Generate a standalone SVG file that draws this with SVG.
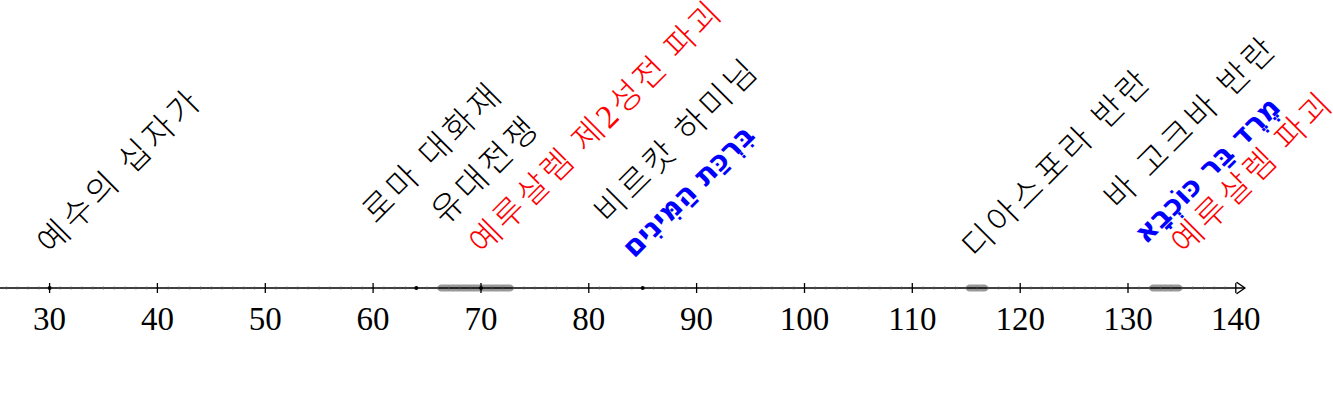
<svg xmlns="http://www.w3.org/2000/svg" width="1333" height="418" viewBox="0 0 1333 418">
<style>
.num{font-family:"Liberation Serif","DejaVu Serif",serif;font-size:33px;text-anchor:middle;fill:#000}
.ko{font-family:"Noto Sans CJK KR","Noto Sans",sans-serif;font-size:33px;font-weight:300;letter-spacing:4px;fill:#000}
.red{fill:#ff0000}
.dg{font-family:"Liberation Serif","DejaVu Serif",serif;font-weight:normal}
.he{font-family:"DejaVu Sans",sans-serif;font-weight:bold;font-size:29px;fill:#0000ff}
.bar{fill:#999999}
</style>
<rect width="1333" height="418" fill="#ffffff"/>
<g id="axis">
<rect class="bar" x="437.8" y="284.5" width="75.5" height="7" rx="3.5"/>
<rect class="bar" x="966.2" y="284.5" width="21.6" height="7" rx="3.5"/>
<rect class="bar" x="1149.6" y="284.5" width="32.3" height="7" rx="3.5"/>
<path d="M0 288H1244" stroke="#000" stroke-width="1.5" fill="none"/>
<path d="M1237 282.5L1245 288L1237 293.5" stroke="#000" stroke-width="1.5" fill="none" stroke-linecap="round" stroke-linejoin="round"/>
<path stroke="#555" stroke-width="0.8" fill="none" d="M6.5 286.5v3M17.3 286.5v3M28 286.5v3M38.8 286.5v3M60.4 286.5v3M71.2 286.5v3M82 286.5v3M92.7 286.5v3M103.5 286.5v3M114.3 286.5v3M125.1 286.5v3M135.9 286.5v3M146.7 286.5v3M168.2 286.5v3M179 286.5v3M189.8 286.5v3M200.6 286.5v3M211.4 286.5v3M222.1 286.5v3M232.9 286.5v3M243.7 286.5v3M254.5 286.5v3M276.1 286.5v3M286.9 286.5v3M297.6 286.5v3M308.4 286.5v3M319.2 286.5v3M330 286.5v3M340.8 286.5v3M351.6 286.5v3M362.3 286.5v3M383.9 286.5v3M394.7 286.5v3M405.5 286.5v3M416.3 286.5v3M427 286.5v3M437.8 286.5v3M448.6 286.5v3M459.4 286.5v3M470.2 286.5v3M491.7 286.5v3M502.5 286.5v3M513.3 286.5v3M524.1 286.5v3M534.9 286.5v3M545.7 286.5v3M556.5 286.5v3M567.2 286.5v3M578 286.5v3M599.6 286.5v3M610.4 286.5v3M621.2 286.5v3M631.9 286.5v3M642.7 286.5v3M653.5 286.5v3M664.3 286.5v3M675.1 286.5v3M685.9 286.5v3M707.4 286.5v3M718.2 286.5v3M729 286.5v3M739.8 286.5v3M750.6 286.5v3M761.3 286.5v3M772.1 286.5v3M782.9 286.5v3M793.7 286.5v3M815.3 286.5v3M826.1 286.5v3M836.8 286.5v3M847.6 286.5v3M858.4 286.5v3M869.2 286.5v3M880 286.5v3M890.8 286.5v3M901.5 286.5v3M923.1 286.5v3M933.9 286.5v3M944.7 286.5v3M955.5 286.5v3M966.2 286.5v3M977 286.5v3M987.8 286.5v3M998.6 286.5v3M1009.4 286.5v3M1030.9 286.5v3M1041.7 286.5v3M1052.5 286.5v3M1063.3 286.5v3M1074.1 286.5v3M1084.9 286.5v3M1095.7 286.5v3M1106.4 286.5v3M1117.2 286.5v3M1138.8 286.5v3M1149.6 286.5v3M1160.4 286.5v3M1171.1 286.5v3M1181.9 286.5v3M1192.7 286.5v3M1203.5 286.5v3M1214.3 286.5v3M1225.1 286.5v3"/>
<path stroke="#000" stroke-width="1.3" fill="none" d="M49.6 283v10M157.4 283v10M265.3 283v10M373.1 283v10M481 283v10M588.8 283v10M696.6 283v10M804.5 283v10M912.3 283v10M1020.2 283v10M1128 283v10M1235.8 283v10"/>
<circle cx="49.6" cy="288" r="2"/>
<circle cx="416.3" cy="288" r="2"/>
<circle cx="481" cy="288" r="2"/>
<circle cx="642.7" cy="288" r="2"/>
</g>
<g id="ticklabels">
<text class="num" x="49.6" y="330">30</text>
<text class="num" x="157.4" y="330">40</text>
<text class="num" x="265.3" y="330">50</text>
<text class="num" x="373.1" y="330">60</text>
<text class="num" x="481" y="330">70</text>
<text class="num" x="588.8" y="330">80</text>
<text class="num" x="696.6" y="330">90</text>
<text class="num" x="804.5" y="330">100</text>
<text class="num" x="912.3" y="330">110</text>
<text class="num" x="1020.2" y="330">120</text>
<text class="num" x="1128" y="330">130</text>
<text class="num" x="1235.8" y="330">140</text>
</g>
<g id="e-crucifixion"><text class="ko" transform="translate(51 256) rotate(-45)">예수의 십자가</text></g>
<g id="e-fire"><text class="ko" transform="translate(376 225) rotate(-45)">로마 대화재</text></g>
<g id="e-war"><text class="ko" transform="translate(445 226) rotate(-45)">유대전쟁</text></g>
<g id="e-temple"><text class="ko red" style="letter-spacing:3.2px" transform="translate(483 256) rotate(-45)">예루살렘 제<tspan class="dg">2</tspan>성전 파괴</text></g>
<g id="e-birkat"><text class="ko" transform="translate(608 225) rotate(-45)">비르캇 하미님</text></g>
<g id="e-birkat-he"><text class="he" transform="translate(634 259) rotate(-45)">בִּרְכַּת הַמִּינִים</text></g>
<g id="e-diaspora"><text class="ko" transform="translate(976 260) rotate(-45)">디아스포라 반란</text></g>
<g id="e-barkokhba"><text class="ko" transform="translate(1118 211) rotate(-45)">바 고크바 반란</text></g>
<g id="e-barkokhba-he"><text class="he" transform="translate(1146 245) rotate(-45)">מֶרֶד בַּר כּוֹכְבָא</text></g>
<g id="e-jerusalem"><text class="ko red" style="letter-spacing:3.5px" transform="translate(1185 256) rotate(-45)">예루살렘 파괴</text></g>
</svg>
